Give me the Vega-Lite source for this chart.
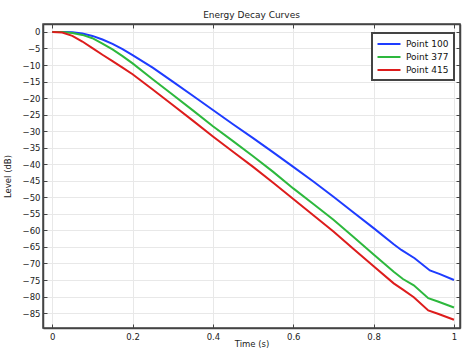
{
  "$schema": "https://vega.github.io/schema/vega-lite/v6.json",
  "width": 417,
  "height": 304,
  "autosize": "none",
  "padding": {"left": 43, "top": 24, "right": 8, "bottom": 23},
  "background": "white",
  "title": {"text": "Energy Decay Curves", "fontSize": 9, "fontWeight": "normal", "font": "DejaVu Sans", "color": "#222", "offset": 4},
  "datasets": {
    "curves": [
      {"t": 0, "L": 0, "s": "Point 100"},
      {"t": 0.025, "L": 0, "s": "Point 100"},
      {"t": 0.05, "L": -0.1, "s": "Point 100"},
      {"t": 0.075, "L": -0.5, "s": "Point 100"},
      {"t": 0.1, "L": -1.2, "s": "Point 100"},
      {"t": 0.125, "L": -2.3, "s": "Point 100"},
      {"t": 0.15, "L": -3.6, "s": "Point 100"},
      {"t": 0.175, "L": -5.2, "s": "Point 100"},
      {"t": 0.2, "L": -7.0, "s": "Point 100"},
      {"t": 0.25, "L": -10.8, "s": "Point 100"},
      {"t": 0.3, "L": -15.0, "s": "Point 100"},
      {"t": 0.35, "L": -19.3, "s": "Point 100"},
      {"t": 0.4, "L": -23.6, "s": "Point 100"},
      {"t": 0.45, "L": -27.9, "s": "Point 100"},
      {"t": 0.5, "L": -32.1, "s": "Point 100"},
      {"t": 0.55, "L": -36.4, "s": "Point 100"},
      {"t": 0.6, "L": -40.8, "s": "Point 100"},
      {"t": 0.65, "L": -45.2, "s": "Point 100"},
      {"t": 0.7, "L": -49.8, "s": "Point 100"},
      {"t": 0.75, "L": -54.6, "s": "Point 100"},
      {"t": 0.8, "L": -59.3, "s": "Point 100"},
      {"t": 0.85, "L": -64.2, "s": "Point 100"},
      {"t": 0.869, "L": -65.9, "s": "Point 100"},
      {"t": 0.902, "L": -68.4, "s": "Point 100"},
      {"t": 0.94, "L": -72.1, "s": "Point 100"},
      {"t": 0.965, "L": -73.2, "s": "Point 100"},
      {"t": 1.0, "L": -75.0, "s": "Point 100"},

      {"t": 0, "L": 0, "s": "Point 377"},
      {"t": 0.025, "L": 0, "s": "Point 377"},
      {"t": 0.05, "L": -0.3, "s": "Point 377"},
      {"t": 0.075, "L": -0.9, "s": "Point 377"},
      {"t": 0.1, "L": -1.9, "s": "Point 377"},
      {"t": 0.125, "L": -3.5, "s": "Point 377"},
      {"t": 0.15, "L": -5.3, "s": "Point 377"},
      {"t": 0.175, "L": -7.3, "s": "Point 377"},
      {"t": 0.2, "L": -9.5, "s": "Point 377"},
      {"t": 0.25, "L": -14.3, "s": "Point 377"},
      {"t": 0.3, "L": -19.0, "s": "Point 377"},
      {"t": 0.35, "L": -23.7, "s": "Point 377"},
      {"t": 0.4, "L": -28.5, "s": "Point 377"},
      {"t": 0.45, "L": -33.0, "s": "Point 377"},
      {"t": 0.5, "L": -37.6, "s": "Point 377"},
      {"t": 0.55, "L": -42.3, "s": "Point 377"},
      {"t": 0.6, "L": -47.3, "s": "Point 377"},
      {"t": 0.65, "L": -52.0, "s": "Point 377"},
      {"t": 0.7, "L": -56.8, "s": "Point 377"},
      {"t": 0.75, "L": -62.0, "s": "Point 377"},
      {"t": 0.8, "L": -67.3, "s": "Point 377"},
      {"t": 0.85, "L": -72.5, "s": "Point 377"},
      {"t": 0.873, "L": -74.7, "s": "Point 377"},
      {"t": 0.9, "L": -76.6, "s": "Point 377"},
      {"t": 0.936, "L": -80.5, "s": "Point 377"},
      {"t": 0.96, "L": -81.5, "s": "Point 377"},
      {"t": 1.0, "L": -83.3, "s": "Point 377"},

      {"t": 0, "L": 0, "s": "Point 415"},
      {"t": 0.025, "L": -0.2, "s": "Point 415"},
      {"t": 0.05, "L": -1.2, "s": "Point 415"},
      {"t": 0.075, "L": -2.9, "s": "Point 415"},
      {"t": 0.1, "L": -4.9, "s": "Point 415"},
      {"t": 0.125, "L": -6.9, "s": "Point 415"},
      {"t": 0.15, "L": -8.8, "s": "Point 415"},
      {"t": 0.175, "L": -10.8, "s": "Point 415"},
      {"t": 0.2, "L": -12.8, "s": "Point 415"},
      {"t": 0.25, "L": -17.4, "s": "Point 415"},
      {"t": 0.3, "L": -22.1, "s": "Point 415"},
      {"t": 0.35, "L": -26.8, "s": "Point 415"},
      {"t": 0.4, "L": -31.6, "s": "Point 415"},
      {"t": 0.45, "L": -36.2, "s": "Point 415"},
      {"t": 0.5, "L": -40.8, "s": "Point 415"},
      {"t": 0.55, "L": -45.6, "s": "Point 415"},
      {"t": 0.6, "L": -50.5, "s": "Point 415"},
      {"t": 0.65, "L": -55.4, "s": "Point 415"},
      {"t": 0.7, "L": -60.3, "s": "Point 415"},
      {"t": 0.75, "L": -65.6, "s": "Point 415"},
      {"t": 0.8, "L": -70.8, "s": "Point 415"},
      {"t": 0.85, "L": -76.0, "s": "Point 415"},
      {"t": 0.873, "L": -77.9, "s": "Point 415"},
      {"t": 0.9, "L": -80.2, "s": "Point 415"},
      {"t": 0.936, "L": -84.2, "s": "Point 415"},
      {"t": 0.96, "L": -85.2, "s": "Point 415"},
      {"t": 1.0, "L": -87.0, "s": "Point 415"}
    ]
  },
  "config": {
    "font": "DejaVu Sans",
    "view": {"stroke": "#444", "strokeWidth": 1.5},
    "axis": {
      "labelFont": "DejaVu Sans", "labelFontSize": 8.5, "labelColor": "#222",
      "titleFont": "DejaVu Sans", "titleFontSize": 8.5, "titleFontWeight": "normal", "titleColor": "#222",
      "gridColor": "#e8e8e8", "gridWidth": 1,
      "domainColor": "#444", "domainWidth": 1.5,
      "tickColor": "#444", "tickSize": 4, "tickOffset": 0
    },
    "legend": {"labelFont": "DejaVu Sans", "labelFontSize": 9, "labelColor": "#111"}
  },
  "data": {"name": "curves"},
  "layer": [
    {
      "mark": {"type": "line", "strokeWidth": 2, "clip": true},
      "encoding": {
        "x": {"field": "t", "type": "quantitative",
              "scale": {"domain": [-0.023, 1.015], "nice": false, "zero": false},
              "axis": {"title": "Time (s)", "values": [0, 0.2, 0.4, 0.6, 0.8, 1], "format": "~g",
                       "tickSize": -4, "labelPadding": 8, "titleY": 11, "titleBaseline": "top"}},
        "y": {"field": "L", "type": "quantitative",
              "scale": {"domain": [-89.5, 2.4], "nice": false, "zero": false},
              "axis": {"title": "Level (dB)", "values": [0, -5, -10, -15, -20, -25, -30, -35, -40, -45, -50, -55, -60, -65, -70, -75, -80, -85],
                       "tickSize": -4, "labelPadding": 7, "titleX": -31}},
        "color": {"field": "s", "type": "nominal",
                  "scale": {"domain": ["Point 100", "Point 377", "Point 415"], "range": ["#1e3cff", "#2db83d", "#dd1c1c"]},
                  "legend": {"title": null, "orient": "none", "legendX": 329, "legendY": 9,
                             "symbolType": "M-2.3,0H2.3", "symbolSize": 100, "symbolStrokeWidth": 2,
                             "fillColor": "white", "strokeColor": "#444",
                             "padding": 5, "rowPadding": 2, "labelOffset": 11, "symbolOffset": 6,
                             "encode": {"legend": {"update": {"strokeWidth": {"value": 2}}}}}}
      }
    },
    {
      "mark": {"type": "line", "strokeOpacity": 0},
      "encoding": {
        "x": {"field": "t", "type": "quantitative",
              "axis": {"orient": "top", "title": null, "labels": false, "grid": false,
                       "values": [0, 0.2, 0.4, 0.6, 0.8, 1], "tickSize": -4}},
        "y": {"field": "L", "type": "quantitative",
              "axis": {"orient": "right", "title": null, "labels": false, "grid": false,
                       "values": [0, -5, -10, -15, -20, -25, -30, -35, -40, -45, -50, -55, -60, -65, -70, -75, -80, -85], "tickSize": -4}}
      }
    }
  ],
  "resolve": {"axis": {"x": "independent", "y": "independent"}}
}
